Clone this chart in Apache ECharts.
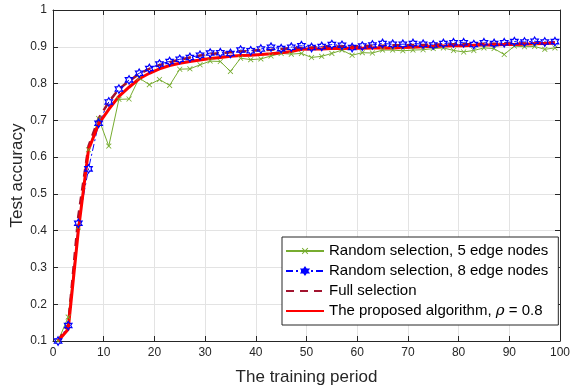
<!DOCTYPE html>
<html>
<head>
<meta charset="utf-8">
<script src="https://cdn.jsdelivr.net/npm/echarts@6/dist/echarts.min.js"></script>
<style>
  html, body { margin: 0; padding: 0; background: #fff; }
  #chart { width: 570px; height: 391px; }
</style>
</head>
<body>
<div id="chart"></div>
<script>
// Training periods at which accuracy was recorded
const periods = [1, 3, 5, 7, 9, 11, 13, 15, 17, 19, 21, 23, 25, 27, 29, 31, 33, 35, 37, 39,
  41, 43, 45, 47, 49, 51, 53, 55, 57, 59, 61, 63, 65, 67, 69, 71, 73, 75, 77, 79,
  81, 83, 85, 87, 89, 91, 93, 95, 97, 99];

// Test accuracy per scheme
const random5 = [0.100, 0.165, 0.410, 0.620, 0.705, 0.630, 0.757, 0.758, 0.815, 0.797,
  0.811, 0.795, 0.839, 0.840, 0.851, 0.861, 0.860, 0.833, 0.869, 0.865,
  0.867, 0.875, 0.882, 0.880, 0.882, 0.871, 0.874, 0.882, 0.891, 0.877,
  0.884, 0.883, 0.891, 0.891, 0.889, 0.891, 0.892, 0.895, 0.897, 0.890,
  0.886, 0.890, 0.897, 0.895, 0.879, 0.902, 0.900, 0.901, 0.893, 0.897];

const random8 = [0.100, 0.142, 0.420, 0.568, 0.692, 0.750, 0.785, 0.810, 0.828, 0.841,
  0.853, 0.860, 0.866, 0.871, 0.877, 0.883, 0.884, 0.882, 0.891, 0.889,
  0.894, 0.899, 0.895, 0.899, 0.903, 0.898, 0.901, 0.906, 0.904, 0.898,
  0.902, 0.905, 0.909, 0.907, 0.907, 0.909, 0.907, 0.905, 0.909, 0.911,
  0.911, 0.906, 0.911, 0.909, 0.911, 0.914, 0.913, 0.915, 0.913, 0.914];

const fullSel = [0.100, 0.145, 0.440, 0.630, 0.705, 0.750, 0.785, 0.807, 0.826, 0.840,
  0.850, 0.858, 0.865, 0.871, 0.876, 0.880, 0.883, 0.885, 0.887, 0.889,
  0.891, 0.892, 0.894, 0.896, 0.897, 0.898, 0.899, 0.900, 0.901, 0.901,
  0.902, 0.903, 0.903, 0.904, 0.904, 0.905, 0.905, 0.906, 0.906, 0.907,
  0.907, 0.907, 0.908, 0.908, 0.908, 0.909, 0.909, 0.909, 0.910, 0.910];

const proposed = [0.100, 0.132, 0.400, 0.620, 0.690, 0.730, 0.765, 0.790, 0.813, 0.828,
  0.840, 0.849, 0.855, 0.860, 0.864, 0.868, 0.871, 0.874, 0.876, 0.877,
  0.879, 0.881, 0.884, 0.887, 0.893, 0.894, 0.894, 0.895, 0.895, 0.896,
  0.896, 0.897, 0.897, 0.897, 0.898, 0.899, 0.900, 0.901, 0.902, 0.903,
  0.903, 0.904, 0.905, 0.905, 0.906, 0.906, 0.907, 0.908, 0.909, 0.910];

const seriesNames = [
  'Random selection, 5 edge nodes',
  'Random selection, 8 edge nodes',
  'Full selection',
  'The proposed algorithm, \u03c1 = 0.8'
];

const pairs = (vals) => periods.map((p, i) => [p, vals[i]]);

// Marker shapes: a thin cross and an outlined six-pointed star
const crossPath = 'path://M0,1 L1,0 L5,4 L9,0 L10,1 L6,5 L10,9 L9,10 L5,6 L1,10 L0,9 L4,5 Z';
const hexagramPath = 'path://M10,0 L12.887,5 L18.66,5 L15.774,10 L18.66,15 L12.887,15 L10,20 L7.113,15 L1.34,15 L4.226,10 L1.34,5 L7.113,5 Z';

const FONT = '"Liberation Sans", Arial, Helvetica, sans-serif';
const AXIS_COLOR = '#262626';
const GRID_COLOR = '#e3e3e3';

const chart = echarts.init(document.getElementById('chart'), null, { renderer: 'canvas' });

const xCommon = {
  type: 'value', min: 0, max: 100, interval: 10,
  axisLine: { show: true, onZero: false, lineStyle: { color: AXIS_COLOR, width: 1 } },
  axisTick: { show: true, inside: true, length: 5, lineStyle: { color: AXIS_COLOR } }
};
const yCommon = {
  type: 'value', min: 0.1, max: 1, interval: 0.1,
  axisLine: { show: true, onZero: false, lineStyle: { color: AXIS_COLOR, width: 1 } },
  axisTick: { show: true, inside: true, length: 5, lineStyle: { color: AXIS_COLOR } }
};

// Plain line samples in the legend for the two series drawn without markers
const noMarker = { color: 'rgba(0,0,0,0)', borderWidth: 0, opacity: 0 };

chart.setOption({
  animation: false,
  backgroundColor: '#fff',
  grid: { left: 53, right: 10, top: 10, bottom: 50, containLabel: false, outerBoundsMode: 'none' },
  xAxis: [
    Object.assign({}, xCommon, {
      position: 'bottom',
      name: 'The training period',
      nameLocation: 'middle',
      nameGap: 28,
      nameMoveOverlap: false,
      nameTextStyle: { fontSize: 17, color: AXIS_COLOR, fontFamily: FONT },
      axisLabel: { fontSize: 12, color: AXIS_COLOR, fontFamily: FONT, margin: 6 },
      splitLine: { show: true, lineStyle: { color: GRID_COLOR, width: 1 } }
    }),
    Object.assign({}, xCommon, {
      position: 'top',
      axisLabel: { show: false },
      splitLine: { show: false }
    })
  ],
  yAxis: [
    Object.assign({}, yCommon, {
      position: 'left',
      name: 'Test accuracy',
      nameLocation: 'middle',
      nameGap: 27,
      nameMoveOverlap: false,
      nameTextStyle: { fontSize: 17, color: AXIS_COLOR, fontFamily: FONT },
      axisLabel: {
        fontSize: 12, color: AXIS_COLOR, fontFamily: FONT, margin: 6,
        formatter: (v) => String(parseFloat(v.toFixed(1)))
      },
      splitLine: { show: true, lineStyle: { color: GRID_COLOR, width: 1 } }
    }),
    Object.assign({}, yCommon, {
      position: 'right',
      axisLabel: { show: false },
      splitLine: { show: false }
    })
  ],
  legend: {
    orient: 'vertical',
    left: 282,
    top: 237,
    itemWidth: 38,
    itemHeight: 8,
    itemGap: 4,
    padding: [6, 10, 6, 3],
    backgroundColor: '#fff',
    borderColor: AXIS_COLOR,
    borderWidth: 1,
    borderRadius: 0,
    data: [
      { name: seriesNames[0] },
      { name: seriesNames[1] },
      { name: seriesNames[2], itemStyle: noMarker },
      { name: seriesNames[3], itemStyle: noMarker }
    ],
    textStyle: {
      fontSize: 15, color: '#000', fontFamily: FONT, lineHeight: 16,
      rich: {
        n: { fontSize: 15, color: '#000', fontFamily: FONT, lineHeight: 16 },
        i: { fontSize: 15, color: '#000', fontFamily: '"DejaVu Serif", "Liberation Serif", serif', fontStyle: 'italic', lineHeight: 16 }
      }
    },
    formatter: (name) => {
      if (name === seriesNames[3]) {
        return '{n|The proposed algorithm, }{i|\u03c1}{n| = 0.8}';
      }
      return name;
    }
  },
  series: [
    {
      name: seriesNames[0],
      type: 'line',
      data: pairs(random5),
      symbol: crossPath,
      symbolSize: 5.5,
      showAllSymbol: true,
      lineStyle: { color: '#77AC30', width: 1 },
      itemStyle: { color: '#77AC30' }
    },
    {
      name: seriesNames[1],
      type: 'line',
      data: pairs(random8),
      symbol: hexagramPath,
      symbolSize: [7.5, 8.5],
      showAllSymbol: true,
      lineStyle: { color: '#0000FF', width: 1, type: [7, 3, 2, 3] },
      itemStyle: { color: 'rgba(0,0,0,0)', borderColor: '#0000FF', borderWidth: 1.2 }
    },
    {
      name: seriesNames[2],
      type: 'line',
      data: pairs(fullSel),
      symbol: 'none',
      lineStyle: { color: '#A2142F', width: 2.5, type: [8, 6] },
      itemStyle: { color: '#A2142F' }
    },
    {
      name: seriesNames[3],
      type: 'line',
      data: pairs(proposed),
      symbol: 'none',
      lineStyle: { color: '#FF0000', width: 3 },
      itemStyle: { color: '#FF0000' }
    }
  ]
});
</script>
</body>
</html>
